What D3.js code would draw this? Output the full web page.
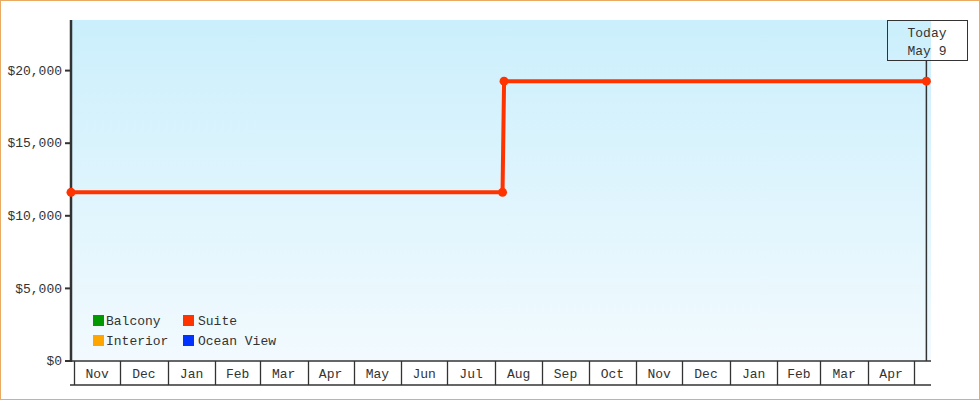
<!DOCTYPE html>
<html>
<head>
<meta charset="utf-8">
<script src="https://cdn.jsdelivr.net/npm/d3@7"></script>
<style>
  body { margin: 0; background: #fff; }
  svg { display: block; }
  text { font-family: "Liberation Mono", monospace; font-size: 13px; fill: #333; }
</style>
</head>
<body>
<div id="chart"></div>
<script>

// price history for the Suite cabin (step change in August)
var suiteDates = ['2023-10-30', '2024-08-06', '2024-08-07', '2025-05-09'];
var suitePrices = [11580, 11580, 19240, 19240];

var yTicks = [0, 5000, 10000, 15000, 20000];

var legendNames = ['Balcony', 'Suite', 'Interior', 'Ocean View'];
var legendColors = ['#009900', '#ff3300', '#ffa500', '#0033ff'];

var todayLabel = ['Today', 'May 9'];
var todayDate = '2025-05-09';

var width = 980
var height = 400

var parse = d3.utcParse('%Y-%m-%d');

var svg = d3.select('#chart')
    .append('svg')
    .attr('width', width)
    .attr('height', height);

var x = d3.scaleUtc()
    .domain([parse('2023-10-30'), parse('2025-05-12')])
    .range([71, 931]);

var y = d3.scaleLinear()
    .domain([0, 23450])
    .range([360.5, 20]);

// background gradient
var grad = svg.append('defs')
    .append('linearGradient')
    .attr('id', 'bg')
    .attr('x1', 0).attr('y1', 0)
    .attr('x2', 0).attr('y2', 1);
grad.append('stop').attr('offset', '0%').attr('stop-color', '#cbeffc');
grad.append('stop').attr('offset', '100%').attr('stop-color', '#f2fafe');

svg.append('rect')
    .attr('x', x.range()[0])
    .attr('y', y.range()[1])
    .attr('width', x.range()[1] - x.range()[0])
    .attr('height', y.range()[0] - y.range()[1])
    .attr('fill', 'url(#bg)');

// outer border
svg.append('rect')
    .attr('x', 0.5).attr('y', 0.5)
    .attr('width', width - 1).attr('height', height - 1)
    .attr('fill', 'none')
    .attr('stroke', '#e9aa63');

// y axis
var yAxis = svg.append('g')
    .attr('transform', 'translate(71,0)')
    .call(d3.axisLeft(y).tickValues(yTicks).tickFormat(d3.format('$,')).tickSize(6).tickPadding(3));
yAxis.select('.domain')
    .attr('d', 'M0,20V362')
    .attr('stroke', '#333')
    .attr('stroke-width', 2.5);
yAxis.selectAll('.tick line').attr('stroke', '#333').attr('stroke-width', 2);
yAxis.selectAll('.tick text')
    .style('font-family', '"Liberation Mono", monospace')
    .style('font-size', '13px')
    .attr('fill', '#333');

// month boxes along the bottom
var boxTop = 361
var boxBottom = 385
var months = d3.utcMonth.range(parse('2023-11-01'), parse('2025-05-02'));

var xAxis = svg.append('g');

xAxis.append('line')
    .attr('x1', 71).attr('x2', 931)
    .attr('y1', boxTop).attr('y2', boxTop)
    .attr('stroke', '#333').attr('stroke-width', 1.5);

xAxis.append('line')
    .attr('x1', 70).attr('x2', 931)
    .attr('y1', boxBottom).attr('y2', boxBottom)
    .attr('stroke', '#333').attr('stroke-width', 1.5);

xAxis.selectAll('.sep')
    .data(months)
    .enter()
    .append('line')
    .attr('x1', d => Math.round(x(d)) + 0.5)
    .attr('x2', d => Math.round(x(d)) + 0.5)
    .attr('y1', boxTop)
    .attr('y2', boxBottom)
    .attr('stroke', '#333')
    .attr('stroke-width', 1.3);

xAxis.selectAll('.mlabel')
    .data(months.slice(0, -1))
    .enter()
    .append('text')
    .attr('x', (d, i) => (x(d) + x(months[i + 1])) / 2)
    .attr('y', 378)
    .attr('text-anchor', 'middle')
    .text(d3.utcFormat('%b'));

// today marker
var tx = x(parse(todayDate));
svg.append('line')
    .attr('x1', tx).attr('x2', tx)
    .attr('y1', 60).attr('y2', 361)
    .attr('stroke', '#333')
    .attr('stroke-width', 1.5);

svg.append('rect')
    .attr('x', 887.5).attr('y', 20.5)
    .attr('width', 80).attr('height', 40)
    .attr('fill', 'none')
    .attr('stroke', '#333');

svg.selectAll('.today')
    .data(todayLabel)
    .enter()
    .append('text')
    .attr('x', 927)
    .attr('y', (d, i) => 37 + i * 18)
    .attr('text-anchor', 'middle')
    .text(d => d);

// suite line
var pts = suiteDates.map((d, i) => [parse(d), suitePrices[i]]);

svg.append('path')
    .datum(pts)
    .attr('d', d3.line().x(d => x(d[0])).y(d => y(d[1])))
    .attr('fill', 'none')
    .attr('stroke', '#ff3300')
    .attr('stroke-width', 4);

svg.selectAll('.pt')
    .data(pts)
    .enter()
    .append('circle')
    .attr('cx', d => x(d[0]))
    .attr('cy', d => y(d[1]))
    .attr('r', 4.5)
    .attr('fill', '#ff3300');

// legend, two columns
var legend = svg.selectAll('.legend')
    .data(legendNames)
    .enter()
    .append('g')
    .attr('transform', (d, i) => 'translate(' + (93 + (i % 2) * 90) + ',' + (315 + Math.floor(i / 2) * 20) + ')');

legend.append('rect')
    .attr('width', 11)
    .attr('height', 11)
    .attr('fill', (d, i) => legendColors[i]);

legend.append('text')
    .attr('x', (d, i) => i % 2 ? 15 : 13)
    .attr('y', 10)
    .text(d => d);

</script>
</body>
</html>
